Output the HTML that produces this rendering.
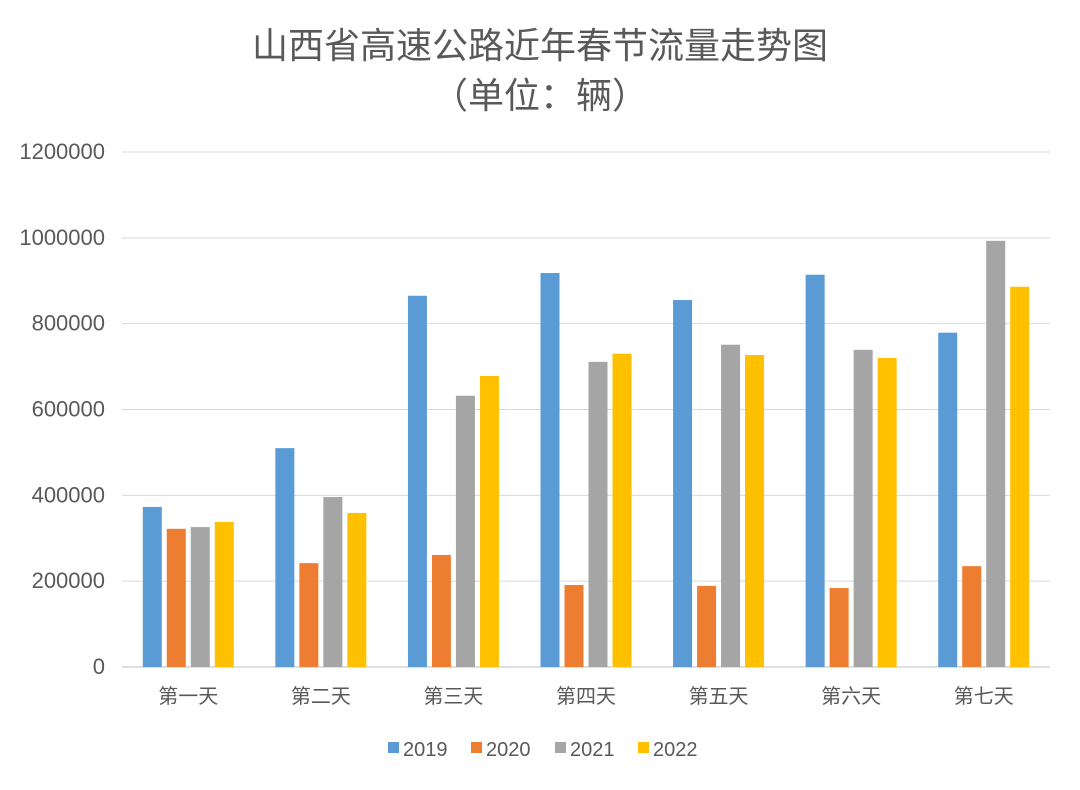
<!DOCTYPE html>
<html><head><meta charset="utf-8"><style>
body{margin:0;background:#fff;}
svg text{font-family:"Liberation Sans","Noto Sans CJK SC",sans-serif;fill:#595959;}
</style></head><body>
<svg width="1080" height="785" id="c">
<rect x="0" y="0" width="1080" height="785" fill="#fff"/>
<text x="540" y="58" font-size="36" text-anchor="middle">山西省高速公路近年春节流量走势图</text>
<text x="540" y="108" font-size="36" text-anchor="middle">（单位：辆）</text>
<g id="grid"></g><g id="bars"></g><g id="legend"></g>
</svg>
<script>
const categories=["第一天","第二天","第三天","第四天","第五天","第六天","第七天"];
const seriesNames=["2019","2020","2021","2022"];
const s2019=[373000,510000,865000,918000,855000,914000,779000];
const s2020=[322000,242000,261000,191000,189000,184000,235000];
const s2021=[326000,396000,632000,711000,751000,739000,993000];
const s2022=[338000,359000,678000,730000,727000,720000,886000];
const ticks=[0,200000,400000,600000,800000,1000000,1200000];
const series=[s2019,s2020,s2021,s2022];
const colors=["#5B9BD5","#ED7D31","#A5A5A5","#FFC000"];
const NS="http://www.w3.org/2000/svg";
const x0=122,x1=1050,y0=667,yTop=152,maxV=1200000;
const y=v=>y0-(v/maxV)*(y0-yTop);
const gw=(x1-x0)/categories.length;
function mk(t,a,p){const e=document.createElementNS(NS,t);for(const k in a)e.setAttribute(k,a[k]);p.appendChild(e);return e;}
const grid=document.getElementById('grid');
ticks.forEach(t=>{
  const l=mk('line',{x1:x0,x2:x1,y1:y(t),y2:y(t),stroke:t===0?'#BFBFBF':'#D9D9D9','stroke-width':1},grid);
  
  
  const tx=mk('text',{x:105,y:y(t)+7,'font-size':22,'text-anchor':'end'},grid);
  tx.textContent=t;
  
  
});
const bars=document.getElementById('bars');
const bw=19,gap=5;
categories.forEach((c,i)=>{
  const cx=x0+gw*(i+0.5);
  const start=cx-(4*bw+3*gap)/2;
  series.forEach((s,j)=>{
    const r=mk('rect',{x:start+j*(bw+gap),y:y(s[i]),width:bw,height:y0-y(s[i]),fill:colors[j]},bars);
    
    
  });
  const t=mk('text',{x:cx,y:703,'font-size':20,'text-anchor':'middle'},bars);
  t.textContent=c;
  
  
});
const lg=document.getElementById('legend');
const lx=[388,471,555,638];
seriesNames.forEach((n,j)=>{
  const g=mk('g',{},lg);
  
  
  mk('rect',{x:lx[j],y:742,width:11,height:11,fill:colors[j]},g);
  const t=mk('text',{x:lx[j]+15,y:756,'font-size':20},g);
  t.textContent=n;
});
</script>
</body></html>
